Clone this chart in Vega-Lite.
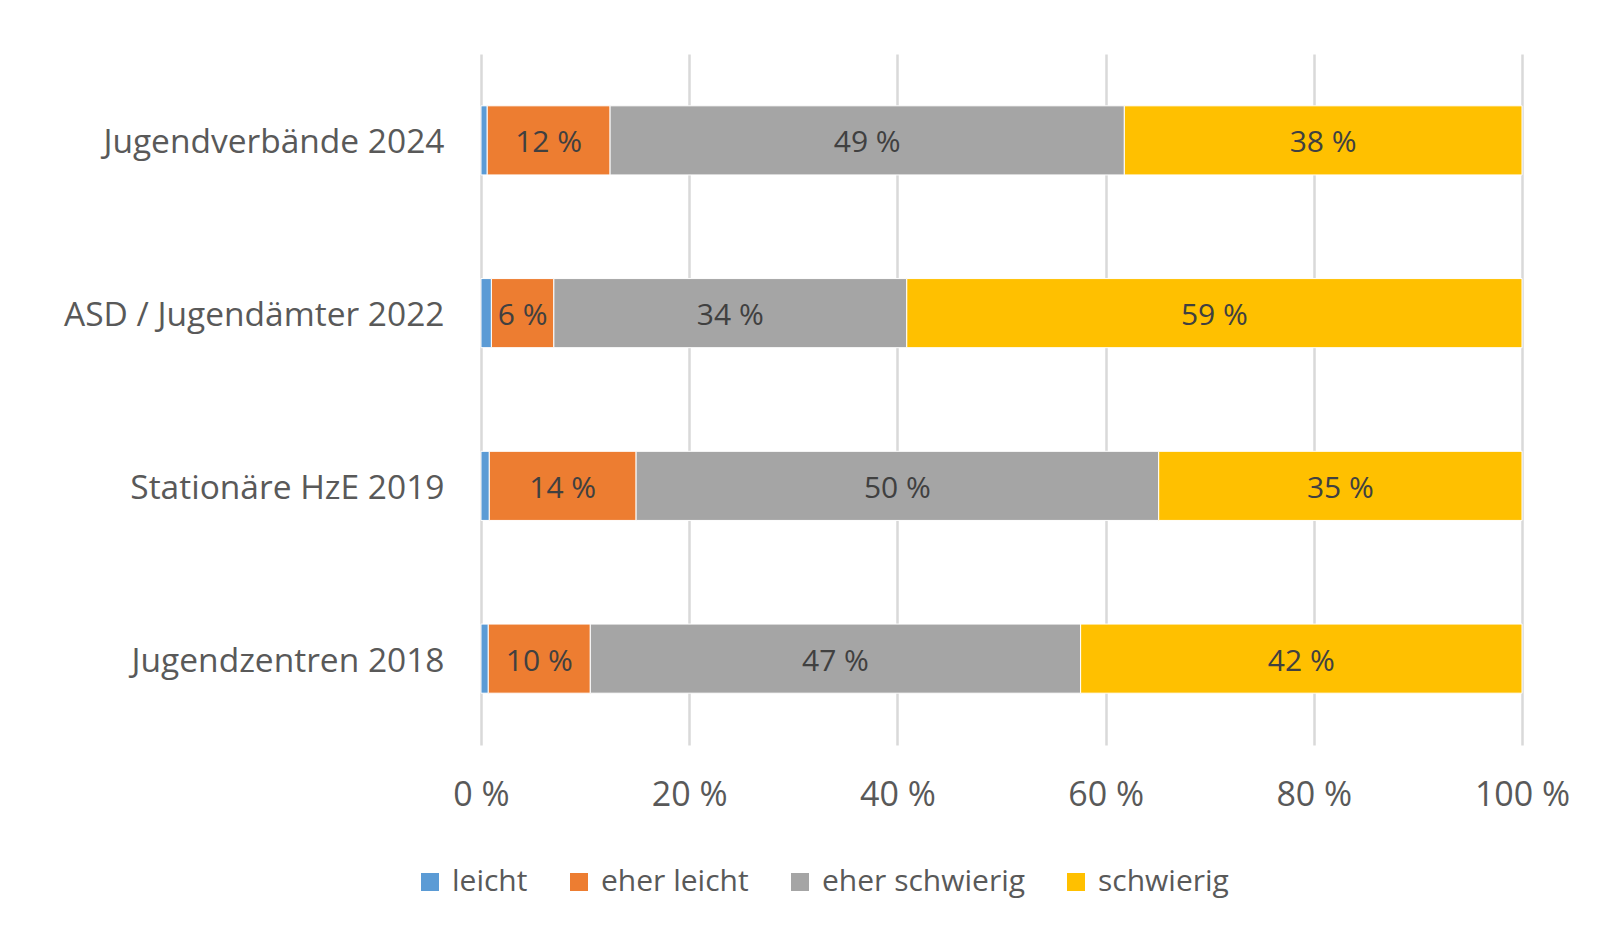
{
  "$schema": "https://vega.github.io/schema/vega-lite/v6.json",
  "width": 1041,
  "height": 691,
  "autosize": {"type": "none"},
  "padding": {"left": 481, "top": 54, "right": 89, "bottom": 189},
  "background": "white",
  "config": {"view": {"stroke": null}, "font": "Open Sans"},
  "data": {
    "values": [
      {"gruppe": "Jugendverbände 2024", "bewertung": "leicht", "rang": 1, "wert": 0.6},
      {"gruppe": "Jugendverbände 2024", "bewertung": "eher leicht", "rang": 2, "wert": 11.8},
      {"gruppe": "Jugendverbände 2024", "bewertung": "eher schwierig", "rang": 3, "wert": 49.4},
      {"gruppe": "Jugendverbände 2024", "bewertung": "schwierig", "rang": 4, "wert": 38.2},
      {"gruppe": "ASD / Jugendämter 2022", "bewertung": "leicht", "rang": 1, "wert": 1.0},
      {"gruppe": "ASD / Jugendämter 2022", "bewertung": "eher leicht", "rang": 2, "wert": 6.0},
      {"gruppe": "ASD / Jugendämter 2022", "bewertung": "eher schwierig", "rang": 3, "wert": 33.9},
      {"gruppe": "ASD / Jugendämter 2022", "bewertung": "schwierig", "rang": 4, "wert": 59.1},
      {"gruppe": "Stationäre HzE 2019", "bewertung": "leicht", "rang": 1, "wert": 0.8},
      {"gruppe": "Stationäre HzE 2019", "bewertung": "eher leicht", "rang": 2, "wert": 14.1},
      {"gruppe": "Stationäre HzE 2019", "bewertung": "eher schwierig", "rang": 3, "wert": 50.2},
      {"gruppe": "Stationäre HzE 2019", "bewertung": "schwierig", "rang": 4, "wert": 34.9},
      {"gruppe": "Jugendzentren 2018", "bewertung": "leicht", "rang": 1, "wert": 0.7},
      {"gruppe": "Jugendzentren 2018", "bewertung": "eher leicht", "rang": 2, "wert": 9.8},
      {"gruppe": "Jugendzentren 2018", "bewertung": "eher schwierig", "rang": 3, "wert": 47.1},
      {"gruppe": "Jugendzentren 2018", "bewertung": "schwierig", "rang": 4, "wert": 42.4}
    ]
  },
  "encoding": {
    "y": {
      "field": "gruppe",
      "type": "nominal",
      "sort": ["Jugendverbände 2024", "ASD / Jugendämter 2022", "Stationäre HzE 2019", "Jugendzentren 2018"],
      "scale": {"paddingInner": 0.6, "paddingOuter": 0.3},
      "axis": {
        "title": null,
        "domain": false,
        "ticks": false,
        "labelPadding": 37,
        "labelFontSize": 33.5,
        "labelColor": "#595959",
        "labelLimit": 600,
        "labelOffset": 3
      }
    },
    "x": {
      "field": "wert",
      "type": "quantitative",
      "stack": "zero",
      "scale": {"domain": [0, 100], "nice": false},
      "axis": {
        "title": null,
        "values": [0, 20, 40, 60, 80, 100],
        "labelExpr": "datum.value + ' %'",
        "labelFlush": false,
        "domain": false,
        "ticks": false,
        "grid": true,
        "gridColor": "#d9d9d9",
        "gridWidth": 2.5,
        "labelPadding": 33,
        "labelFontSize": 34,
        "labelColor": "#595959"
      }
    }
  },
  "layer": [
    {
      "mark": {"type": "bar", "stroke": "white", "strokeWidth": 1},
      "encoding": {
        "color": {
          "field": "bewertung",
          "type": "nominal",
          "scale": {
            "domain": ["leicht", "eher leicht", "eher schwierig", "schwierig"],
            "range": ["#5B9BD5", "#ED7D31", "#A5A5A5", "#FFC000"]
          },
          "legend": {
            "title": null,
            "orient": "none",
            "direction": "horizontal",
            "legendX": -66,
            "legendY": 813,
            "symbolType": "square",
            "symbolSize": 324,
            "symbolStrokeWidth": 0,
            "labelFontSize": 30,
            "labelColor": "#595959",
            "labelOffset": 7,
            "columnPadding": 36,
            "labelLimit": 400
          }
        },
        "order": {"field": "rang", "type": "quantitative"}
      }
    },
    {
      "transform": [
        {"calculate": "datum.bewertung == 'leicht' ? '' : format(datum.wert, '.0f') + ' %'", "as": "etikett"}
      ],
      "mark": {"type": "text", "fontSize": 30, "color": "#404040", "dy": 3},
      "encoding": {
        "x": {
          "field": "wert",
          "type": "quantitative",
          "stack": "zero",
          "bandPosition": 0.5,
          "axis": {
            "title": null,
            "values": [0, 20, 40, 60, 80, 100],
            "labelExpr": "datum.value + ' %'",
            "labelFlush": false,
            "domain": false,
            "ticks": false,
            "grid": true,
            "gridColor": "#d9d9d9",
            "gridWidth": 2.5,
            "labelPadding": 33,
            "labelFontSize": 34,
            "labelColor": "#595959"
          }
        },
        "text": {"field": "etikett"},
        "order": {"field": "rang", "type": "quantitative"}
      }
    }
  ]
}
